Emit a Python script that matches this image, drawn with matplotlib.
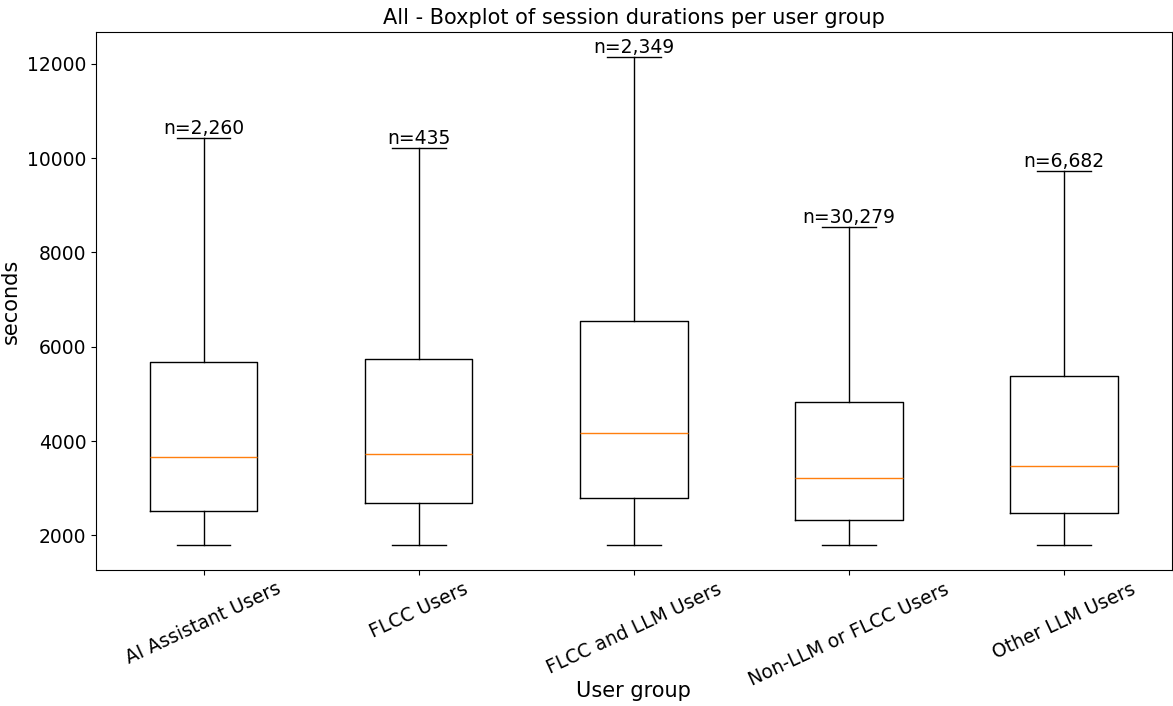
import matplotlib
matplotlib.use("Agg")
import matplotlib.pyplot as plt

groups = ["AI Assistant Users", "FLCC Users", "FLCC and LLM Users",
          "Non-LLM or FLCC Users", "Other LLM Users"]
counts = [2260, 435, 2349, 30279, 6682]
whisker_low = [1790, 1790, 1790, 1790, 1790]
q1 = [2517, 2693, 2793, 2333, 2475]
median = [3668, 3726, 4171, 3208, 3478]
q3 = [5682, 5740, 6537, 4820, 5371]
whisker_high = [10438, 10213, 12148, 8551, 9738]

stats = []
for g, lo, a, m, b, hi in zip(groups, whisker_low, q1, median, q3, whisker_high):
    stats.append(dict(label=g, whislo=lo, q1=a, med=m, q3=b, whishi=hi, fliers=[]))

fig = plt.figure(figsize=(11.73, 7.06), dpi=100)
ax = fig.add_axes([0.0818, 0.193, 0.917, 0.761])
ax.bxp(stats, showfliers=False)

for i, (hi, n) in enumerate(zip(whisker_high, counts), start=1):
    ax.text(i, hi, f"n={n:,}", ha="center", va="bottom", fontsize=13.5)

ax.set_title("All - Boxplot of session durations per user group", fontsize=15)
ax.set_xlabel("User group", fontsize=15)
ax.xaxis.set_label_coords(0.5, -0.207)
ax.set_ylabel("seconds", fontsize=15)
ax.tick_params(axis="both", labelsize=13.5)
plt.setp(ax.get_xticklabels(), rotation=25)

fig.savefig("out.png", dpi=100)
